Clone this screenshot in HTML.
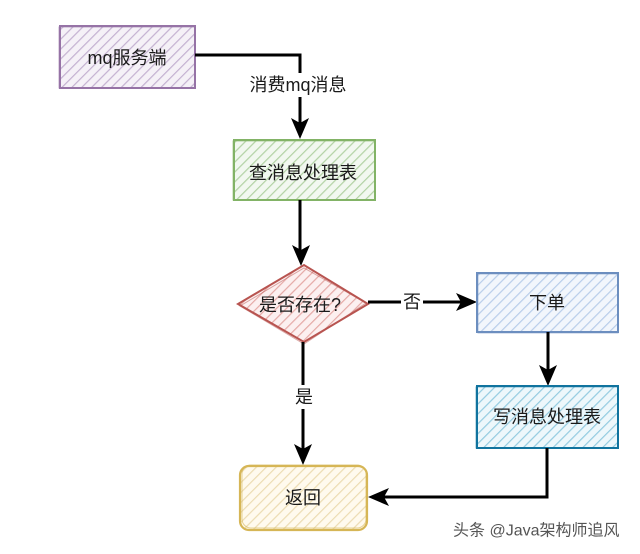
<!DOCTYPE html>
<html><head><meta charset="utf-8">
<style>
html,body{margin:0;padding:0;background:#fff;}
svg{display:block;}
text{font-family:"Liberation Sans","Noto Sans CJK SC",sans-serif;}
</style></head>
<body>
<svg width="640" height="554" viewBox="0 0 640 554" xmlns="http://www.w3.org/2000/svg">
<defs>
<pattern id="hp" width="7" height="7" patternUnits="userSpaceOnUse" patternTransform="rotate(45)"><rect width="7" height="7" fill="#f5f1f7"/><line x1="0" y1="0" x2="0" y2="7" stroke="#c4b1d1" stroke-width="2.4"/></pattern>
<pattern id="hg" width="7" height="7" patternUnits="userSpaceOnUse" patternTransform="rotate(45)"><rect width="7" height="7" fill="#f2f8f0"/><line x1="0" y1="0" x2="0" y2="7" stroke="#b2d2a4" stroke-width="2.4"/></pattern>
<pattern id="hr" width="7" height="7" patternUnits="userSpaceOnUse" patternTransform="rotate(45)"><rect width="7" height="7" fill="#fcf0f0"/><line x1="0" y1="0" x2="0" y2="7" stroke="#e5a9a6" stroke-width="2.4"/></pattern>
<pattern id="hb" width="7" height="7" patternUnits="userSpaceOnUse" patternTransform="rotate(45)"><rect width="7" height="7" fill="#f2f6fc"/><line x1="0" y1="0" x2="0" y2="7" stroke="#b8cdea" stroke-width="2.4"/></pattern>
<pattern id="ht" width="7" height="7" patternUnits="userSpaceOnUse" patternTransform="rotate(45)"><rect width="7" height="7" fill="#edf7fb"/><line x1="0" y1="0" x2="0" y2="7" stroke="#93cbe0" stroke-width="2.4"/></pattern>
<pattern id="hy" width="7" height="7" patternUnits="userSpaceOnUse" patternTransform="rotate(45)"><rect width="7" height="7" fill="#fffaee"/><line x1="0" y1="0" x2="0" y2="7" stroke="#ecdcb2" stroke-width="2.4"/></pattern>
</defs>

<!-- mq服务端 -->
<rect x="60" y="26" width="135" height="62" fill="url(#hp)" stroke="#9673a6" stroke-width="2"/>
<rect x="59" y="27" width="136" height="61" fill="none" stroke="#9673a6" stroke-width="1" opacity="0.6"/>
<text x="127" y="58" font-size="18" fill="#1a1a1a" text-anchor="middle" dominant-baseline="central">mq服务端</text>

<!-- connector 1 -->
<path d="M195 55 H300 V125" fill="none" stroke="#000" stroke-width="3"/>
<rect x="246" y="73" width="104" height="24" fill="#fff"/>
<text x="298" y="85" font-size="18" fill="#1a1a1a" text-anchor="middle" dominant-baseline="central">消费mq消息</text>
<path d="M300 139 L291 118 L300 123 L309 118 Z" fill="#000"/>

<!-- 查消息处理表 -->
<rect x="234" y="140" width="141" height="60" fill="url(#hg)" stroke="#82b366" stroke-width="2"/>
<rect x="233" y="141" width="142" height="59" fill="none" stroke="#82b366" stroke-width="1" opacity="0.6"/>
<text x="303" y="173" font-size="18" fill="#1a1a1a" text-anchor="middle" dominant-baseline="central">查消息处理表</text>

<!-- connector 2 -->
<path d="M300 200 V252" fill="none" stroke="#000" stroke-width="3"/>
<path d="M301 266 L292 245 L301 250 L310 245 Z" fill="#000"/>

<!-- diamond -->
<polygon points="238,304 304,265 368,304 304,342" fill="url(#hr)" stroke="#b85450" stroke-width="2"/>
<polygon points="240,306 304,268 366,303 304,344" fill="none" stroke="#b85450" stroke-width="1" opacity="0.5"/>
<text x="300" y="305" font-size="18" fill="#1a1a1a" text-anchor="middle" dominant-baseline="central">是否存在?</text>

<!-- 否 connector -->
<path d="M368 302 H463" fill="none" stroke="#000" stroke-width="3"/>
<rect x="401" y="290" width="22" height="24" fill="#fff"/>
<text x="412" y="302" font-size="18" fill="#1a1a1a" text-anchor="middle" dominant-baseline="central">否</text>
<path d="M477 302 L456 293 L461 302 L456 311 Z" fill="#000"/>

<!-- 下单 -->
<rect x="477" y="273" width="141" height="59" fill="url(#hb)" stroke="#6c8ebf" stroke-width="2"/>
<rect x="478" y="274" width="140" height="59" fill="none" stroke="#6c8ebf" stroke-width="1" opacity="0.5"/>
<text x="547" y="303" font-size="18" fill="#1a1a1a" text-anchor="middle" dominant-baseline="central">下单</text>

<!-- arrow 下单 -> 写 -->
<path d="M548 332 V372" fill="none" stroke="#000" stroke-width="3"/>
<path d="M548 386 L539 365 L548 370 L557 365 Z" fill="#000"/>

<!-- 写消息处理表 -->
<rect x="477" y="386" width="141" height="62" fill="url(#ht)" stroke="#10739e" stroke-width="2"/>
<rect x="476" y="387" width="142" height="61" fill="none" stroke="#10739e" stroke-width="1" opacity="0.5"/>
<text x="547" y="417" font-size="18" fill="#1a1a1a" text-anchor="middle" dominant-baseline="central">写消息处理表</text>

<!-- 是 connector -->
<path d="M303 342 V452" fill="none" stroke="#000" stroke-width="3"/>
<rect x="292" y="385" width="24" height="24" fill="#fff"/>
<text x="304" y="397" font-size="18" fill="#1a1a1a" text-anchor="middle" dominant-baseline="central">是</text>
<path d="M303 465 L294 444 L303 449 L312 444 Z" fill="#000"/>

<!-- 返回 -->
<rect x="240" y="466" width="127" height="64" rx="9" fill="url(#hy)" stroke="#d6b656" stroke-width="2.2"/>
<rect x="242" y="465" width="124" height="63" rx="9" fill="none" stroke="#d6b656" stroke-width="1" opacity="0.6"/>
<text x="303" y="498" font-size="18" fill="#1a1a1a" text-anchor="middle" dominant-baseline="central">返回</text>

<!-- 写 -> 返回 -->
<path d="M547 448 V497 H382" fill="none" stroke="#000" stroke-width="3"/>
<path d="M368 497 L389 488 L384 497 L389 506 Z" fill="#000"/>

<!-- watermark -->
<text x="453" y="531" font-size="16" fill="#fff" stroke="#fff" stroke-width="3" dominant-baseline="central">头条 @Java架构师追风</text>
<text x="453" y="531" font-size="16" fill="#555" dominant-baseline="central">头条 @Java架构师追风</text>
</svg>
</body></html>
